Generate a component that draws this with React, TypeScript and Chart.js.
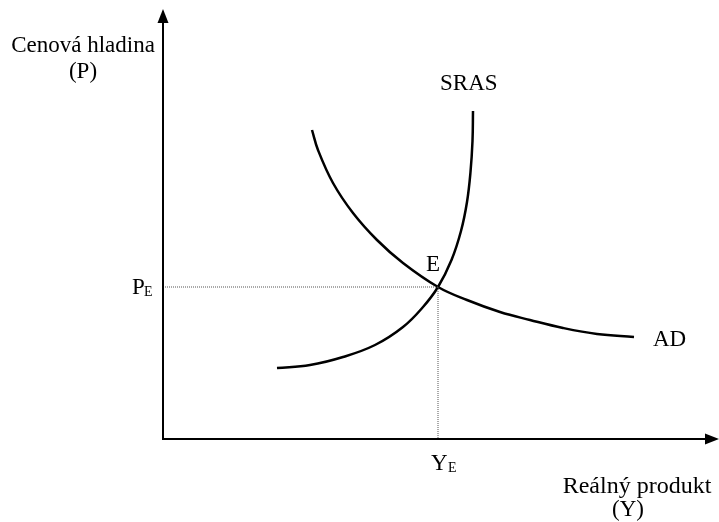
import React, { useEffect, useRef } from "react";
import { Chart, registerables } from "chart.js";

Chart.register(...registerables);

// Curve data (x = real output, y = price level, in chart units)
const adX = [149, 155, 170, 190, 214, 240, 275, 304, 337, 367, 400, 434, 471];
const adY = [309, 289, 256, 226, 199, 176, 152, 139, 127, 119, 111, 105, 102];
const srasX = [114, 147, 180, 212, 240, 260, 275, 288.5, 298, 304, 307.5, 309.5, 310];
const srasY = [71, 74, 82, 94, 112, 132, 152, 179, 208, 237, 267, 298, 328];
const equilibrium = { x: 275, y: 152 };
const xRange = [0, 551];
const yRange = [0, 429];

const FONT = '"Liberation Serif", "Times New Roman", serif';

const labelsPlugin = {
  id: "econLabels",
  afterDraw(chart: any) {
    const ctx = chart.ctx as CanvasRenderingContext2D;
    const xs = chart.scales.x;
    const ys = chart.scales.y;
    const x0 = xs.getPixelForValue(0);
    const y0 = ys.getPixelForValue(0);
    ctx.save();
    // axes
    ctx.strokeStyle = "#000";
    ctx.fillStyle = "#000";
    ctx.lineWidth = 2;
    ctx.beginPath();
    ctx.moveTo(x0, y0);
    ctx.lineTo(x0, 22);
    ctx.moveTo(x0 - 1, y0);
    ctx.lineTo(706, y0);
    ctx.stroke();
    ctx.beginPath();
    ctx.moveTo(x0, 9);
    ctx.lineTo(x0 - 5.5, 23);
    ctx.lineTo(x0 + 5.5, 23);
    ctx.closePath();
    ctx.fill();
    ctx.beginPath();
    ctx.moveTo(719, y0);
    ctx.lineTo(705, y0 - 5.5);
    ctx.lineTo(705, y0 + 5.5);
    ctx.closePath();
    ctx.fill();

    // texts
    ctx.textBaseline = "alphabetic";
    ctx.textAlign = "center";
    ctx.font = `23px ${FONT}`;
    ctx.fillText("Cenová hladina", 83, 52);
    ctx.fillText("(P)", 83, 78);
    ctx.font = `24px ${FONT}`;
    ctx.fillText("Reálný produkt", 637, 493);
    ctx.font = `23px ${FONT}`;
    ctx.fillText("(Y)", 628, 516);
    ctx.textAlign = "left";
    ctx.fillText("SRAS", 440, 90);
    ctx.fillText("AD", 653, 346);
    ctx.fillText("E", 426, 271);
    ctx.fillText("P", 132, 294);
    ctx.fillText("Y", 431, 470);
    ctx.font = `14px ${FONT}`;
    ctx.fillText("E", 144, 296);
    ctx.fillText("E", 448, 472);
    ctx.restore();
  },
};

export default function App() {
  const ref = useRef<HTMLCanvasElement>(null);
  useEffect(() => {
    if (!ref.current) return;
    const chart = new Chart(ref.current, {
      type: "scatter",
      data: {
        datasets: [
          {
            label: "P_E",
            data: [
              { x: 0, y: equilibrium.y },
              { x: equilibrium.x, y: equilibrium.y },
            ],
            showLine: true,
            borderColor: "#555",
            borderWidth: 1,
            borderDash: [1, 1],
            pointRadius: 0,
          },
          {
            label: "Y_E",
            data: [
              { x: equilibrium.x, y: equilibrium.y },
              { x: equilibrium.x, y: 0 },
            ],
            showLine: true,
            borderColor: "#555",
            borderWidth: 1,
            borderDash: [1, 1],
            pointRadius: 0,
          },
          {
            label: "AD",
            data: adX.map((x, i) => ({ x, y: adY[i] })),
            showLine: true,
            borderColor: "#000",
            borderWidth: 2.5,
            pointRadius: 0,
            tension: 0.4,
          },
          {
            label: "SRAS",
            data: srasX.map((x, i) => ({ x, y: srasY[i] })),
            showLine: true,
            borderColor: "#000",
            borderWidth: 2.5,
            pointRadius: 0,
            tension: 0.4,
          },
        ],
      },
      options: {
        responsive: false,
        animation: false,
        devicePixelRatio: 1,
        layout: { padding: { left: 163, top: 10, right: 5, bottom: 83 } },
        plugins: { legend: { display: false }, tooltip: { enabled: false } },
        scales: {
          x: { type: "linear", min: xRange[0], max: xRange[1], display: false },
          y: { type: "linear", min: yRange[0], max: yRange[1], display: false },
        },
      },
      plugins: [labelsPlugin],
    });
    return () => chart.destroy();
  }, []);
  return (
    <div style={{ position: "fixed", left: 0, top: 0, width: 719, height: 522, background: "#fff" }}>
      <canvas ref={ref} width={719} height={522} />
    </div>
  );
}
